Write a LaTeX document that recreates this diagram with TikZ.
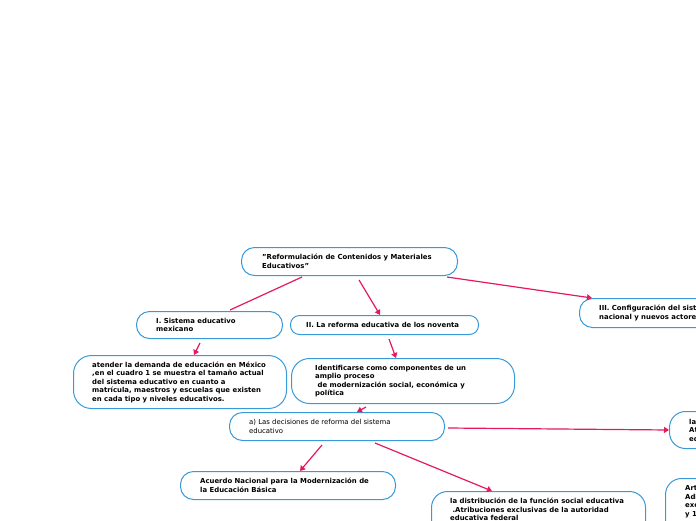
\documentclass[tikz,border=0pt]{standalone}
\usepackage{fontspec}
\setmainfont{DejaVu Sans}
\usetikzlibrary{arrows.meta,calc}
\definecolor{boxblue}{HTML}{3A9AD9}
\definecolor{edgepink}{HTML}{E5195E}
\tikzset{
  mbox/.style n args={2}{draw=boxblue, line width=1pt, rounded corners=13pt,
    anchor=north west, inner sep=0pt, minimum width=#1pt, minimum height=#2pt, fill=white},
  txt/.style={anchor=west, align=left, inner sep=0pt,
    font=\fontsize{6.9}{8.5}\selectfont\bfseries},
  plaintxt/.style={txt, font=\fontsize{6.9}{8.5}\selectfont},
  link/.style={draw=edgepink, line width=1.2pt},
  arr/.style={link, -{Triangle[length=5pt,width=6pt]}}
}
\begin{document}
\begin{tikzpicture}[x=1pt,y=-1pt]
\useasboundingbox (0,0) rectangle (696,520);
\clip (0,0) rectangle (696,520);
% boxes
\node[mbox={216}{28}] (root) at (241,247) {};
\node[mbox={146}{27}] (s1) at (136,311) {};
\node[mbox={188}{19}, rounded corners=9pt] (s2) at (290,315) {};
\node[mbox={230}{29}] (s3) at (579,298) {};
\node[mbox={213}{53}, rounded corners=18pt] (aten) at (73,355) {};
\node[mbox={223}{45}, rounded corners=18pt] (iden) at (291,358) {};
\node[mbox={215}{28}] (deci) at (229,412) {};
\node[mbox={215}{28}] (acue) at (180,471) {};
\node[mbox={214}{50}, rounded corners=16pt] (dist) at (431,491) {};
\node[mbox={200}{37}, rounded corners=16pt] (r1) at (669,411) {};
\node[mbox={200}{62}, rounded corners=16pt] (r2) at (665,478) {};
% texts
\node[txt] (troot) at ($(root.west)+(21,0)$) {"Reformulación de Contenidos y Materiales\\Educativos"};
\node[txt] (ts1) at ($(s1.west)+(20,0)$) {I. Sistema educativo\\mexicano};
\node[txt] (ts2) at ($(s2.west)+(16,0)$) {II. La reforma educativa de los noventa};
\node[txt] (ts3) at ($(s3.west)+(20,0)$) {III. Configuración del sistema educativo\\nacional y nuevos actores};
\node[txt] (taten) at ($(aten.west)+(19,0)$) {atender la demanda de educación en México\\,en el cuadro 1 se muestra el tamaño actual\\del sistema educativo en cuanto a\\matrícula, maestros y escuelas que existen\\en cada tipo y niveles educativos.};
\node[txt] (tiden) at ($(iden.west)+(24,0)$) {Identificarse como componentes de un\\amplio proceso\\\ de modernización social, económica y\\política};
\node[plaintxt] (tdeci) at ($(deci.west)+(20,0)$) {a) Las decisiones de reforma del sistema\\educativo};
\node[txt] (tacue) at ($(acue.west)+(20,0)$) {Acuerdo Nacional para la Modernización de\\la Educación Básica};
\node[txt, anchor=north west] (tdist) at ($(dist.north west)+(19,7)$) {la distribución de la función social educativa\\\ .Atribuciones exclusivas de la autoridad\\educativa federal};
\node[txt] (tr1) at ($(r1.west)+(20,0)$) {las\\Atribuciones\\educativa};
\node[txt, anchor=north west] (tr2) at ($(r2.north west)+(20,7)$) {Artículo\\Adicionalmente\\exclusivas\\y 1};
% connectors
\draw[link] ($(root.south west)+(61,1)$) -- ($(s1.north west)+(94,-1)$);
\draw[arr] ($(root.south west)+(118,4)$) -- ($(s2.north west)+(90,0)$);
\draw[arr] ($(root.south west)+(206,1)$) -- ($(s3.north west)+(13,0)$);
\draw[arr] ($(s1.south west)+(64,4)$) -- ($(aten.north west)+(121,0)$);
\draw[arr] ($(s2.south west)+(99,4)$) -- ($(iden.north west)+(105,0)$);
\draw[arr] ($(iden.south west)+(75,3)$) -- ($(deci.north west)+(128,0)$);
\draw[arr] ($(deci.north west)+(219,16)$) -- ($(r1.north west)+(0,19)$);
\draw[arr] ($(deci.south west)+(93,4)$) -- ($(acue.north west)+(120,0)$);
\draw[arr] ($(deci.south west)+(146,2)$) -- ($(dist.north west)+(61,0)$);
\end{tikzpicture}
\end{document}
